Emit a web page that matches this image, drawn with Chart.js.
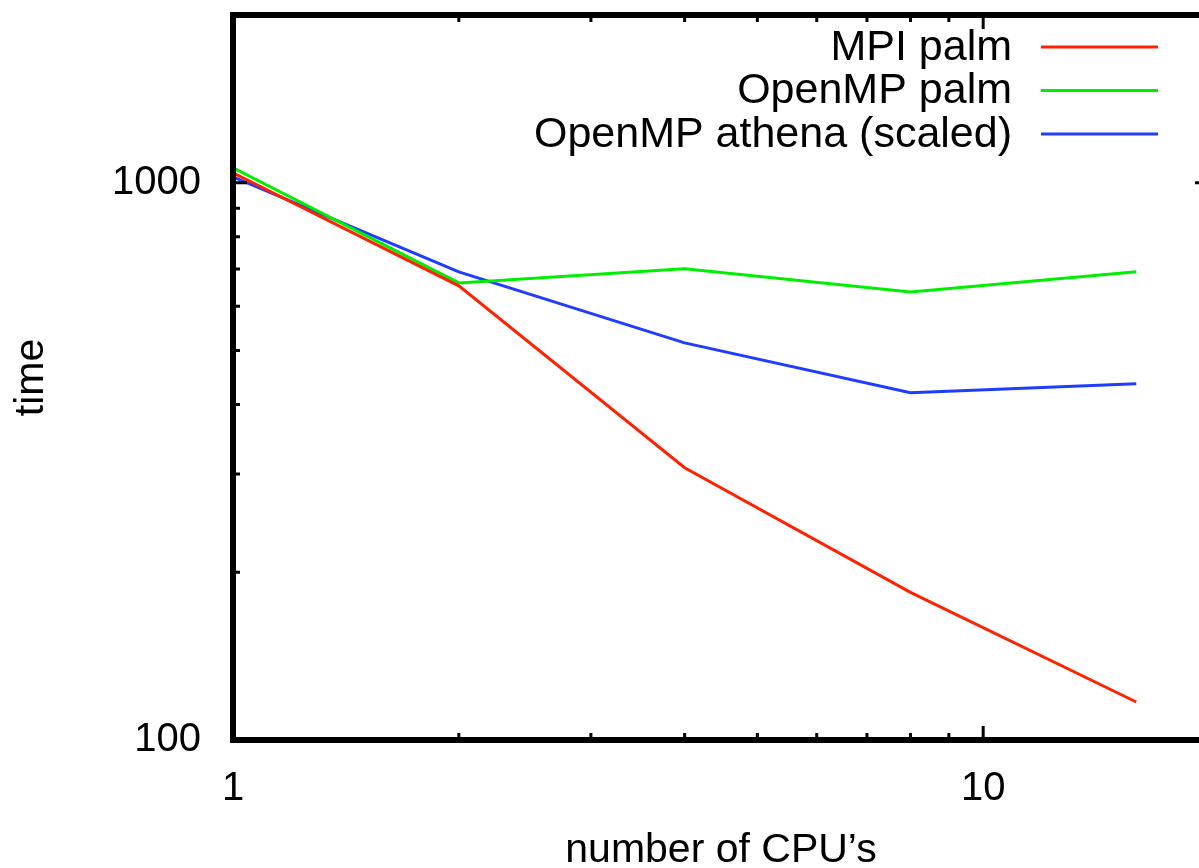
<!DOCTYPE html>
<html lang="en">
<head>
    <meta charset="UTF-8">
    <title>Timing vs number of CPUs</title>
    <script src="https://cdn.jsdelivr.net/npm/chart.js"></script>
    <style>
        html, body {
            margin: 0;
            padding: 0;
            background: #ffffff;
            overflow: hidden;
        }
        .chart-box {
            width: 1220px;
            height: 868px;
        }
    </style>
</head>
<body>
    <div class="chart-box">
        <canvas id="timeChart" width="1220" height="868"></canvas>
    </div>

    <script>
        // number of CPUs (x, log scale)
        const cpus = [1, 2, 4, 8, 16];

        // run times (y, log scale)
        const mpiPalm = [1042, 653, 308, 184, 117];
        const openmpPalm = [1064, 661, 701, 637, 692];
        const openmpAthena = [1025, 692, 516, 420, 436];

        const seriesNames = ['MPI palm', 'OpenMP palm', 'OpenMP athena (scaled)'];
        const seriesColors = ['#ff2200', '#00ee00', '#1f3cff'];

        const xTickLabels = [1, 10];
        const yTickLabels = [100, 1000];
        const xMinorTicks = [1, 2, 3, 4, 5, 6, 7, 8, 9, 10, 20];
        const yMinorTicks = [100, 200, 300, 400, 500, 600, 700, 800, 900, 1000, 2000];

        const FONT = '"Liberation Sans", Arial, Helvetica, sans-serif';

        function toPoints(values) {
            return cpus.map((c, i) => ({ x: c, y: values[i] }));
        }

        // gnuplot style frame with inward ticks on all four sides
        const framePlugin = {
            id: 'frame',
            afterDatasetsDraw(chart) {
                const { ctx, chartArea: a, scales } = chart;
                ctx.save();
                ctx.strokeStyle = '#000';
                ctx.lineWidth = 3;
                xMinorTicks.forEach(v => {
                    const px = scales.x.getPixelForValue(v);
                    const len = xTickLabels.includes(v) ? 14 : 7;
                    ctx.beginPath();
                    ctx.moveTo(px, a.bottom); ctx.lineTo(px, a.bottom - len);
                    ctx.moveTo(px, a.top); ctx.lineTo(px, a.top + len);
                    ctx.stroke();
                });
                yMinorTicks.forEach(v => {
                    const py = scales.y.getPixelForValue(v);
                    const len = yTickLabels.includes(v) ? 14 : 7;
                    ctx.beginPath();
                    ctx.moveTo(a.left, py); ctx.lineTo(a.left + len, py);
                    ctx.moveTo(a.right, py); ctx.lineTo(a.right - len, py);
                    ctx.stroke();
                });
                ctx.lineWidth = 6;
                ctx.strokeRect(a.left, a.top, a.right - a.left, a.bottom - a.top);
                ctx.restore();
            }
        };

        // legend inside the plot: text right aligned, sample line on its right
        const keyPlugin = {
            id: 'key',
            afterDraw(chart) {
                const { ctx } = chart;
                ctx.save();
                ctx.font = '43px ' + FONT;
                ctx.textAlign = 'right';
                ctx.textBaseline = 'middle';
                chart.data.datasets.forEach((ds, i) => {
                    const y = 47 + i * 43.5;
                    ctx.fillStyle = '#000';
                    ctx.fillText(ds.label, 1012, y + 1);
                    ctx.strokeStyle = ds.borderColor;
                    ctx.lineWidth = 3;
                    ctx.beginPath();
                    ctx.moveTo(1041, y);
                    ctx.lineTo(1158, y);
                    ctx.stroke();
                });
                ctx.restore();
            }
        };

        function initializeChart() {
            const ctx = document.getElementById('timeChart').getContext('2d');
            const values = [mpiPalm, openmpPalm, openmpAthena];
            new Chart(ctx, {
                type: 'line',
                data: {
                    datasets: values.map((v, i) => ({
                        label: seriesNames[i],
                        data: toPoints(v),
                        borderColor: seriesColors[i],
                        backgroundColor: seriesColors[i],
                        borderWidth: 3,
                        pointRadius: 0,
                        tension: 0,
                        fill: false
                    }))
                },
                options: {
                    responsive: false,
                    animation: false,
                    layout: { padding: { top: 15, right: 11, left: 0, bottom: 0 } },
                    plugins: {
                        legend: { display: false },
                        tooltip: { enabled: false }
                    },
                    scales: {
                        x: {
                            type: 'logarithmic',
                            min: 1,
                            max: 20,
                            grid: { display: false },
                            border: { display: false },
                            afterFit: s => {
                                s.height = 128;
                                s.paddingLeft = 0;
                                s.paddingRight = 0;
                            },
                            ticks: {
                                autoSkip: false,
                                maxRotation: 0,
                                padding: 17,
                                color: '#000',
                                font: { family: FONT, size: 40 },
                                callback: v => xTickLabels.includes(v) ? String(v) : ''
                            },
                            title: {
                                display: true,
                                text: 'number of CPU’s',
                                color: '#000',
                                font: { family: FONT, size: 41 },
                                padding: { top: 0, bottom: -7 }
                            }
                        },
                        y: {
                            type: 'logarithmic',
                            min: 100,
                            max: 2000,
                            grid: { display: false },
                            border: { display: false },
                            afterFit: s => {
                                s.width = 233;
                                s.paddingTop = 0;
                                s.paddingBottom = 0;
                            },
                            ticks: {
                                autoSkip: false,
                                padding: 24,
                                color: '#000',
                                font: { family: FONT, size: 40 },
                                callback: v => yTickLabels.includes(v) ? String(v) : ''
                            },
                            title: {
                                display: true,
                                text: 'time',
                                color: '#000',
                                font: { family: FONT, size: 41 },
                                padding: { top: 7, bottom: 0 }
                            }
                        }
                    }
                },
                plugins: [framePlugin, keyPlugin]
            });
        }

        window.onload = initializeChart;
    </script>
</body>
</html>
